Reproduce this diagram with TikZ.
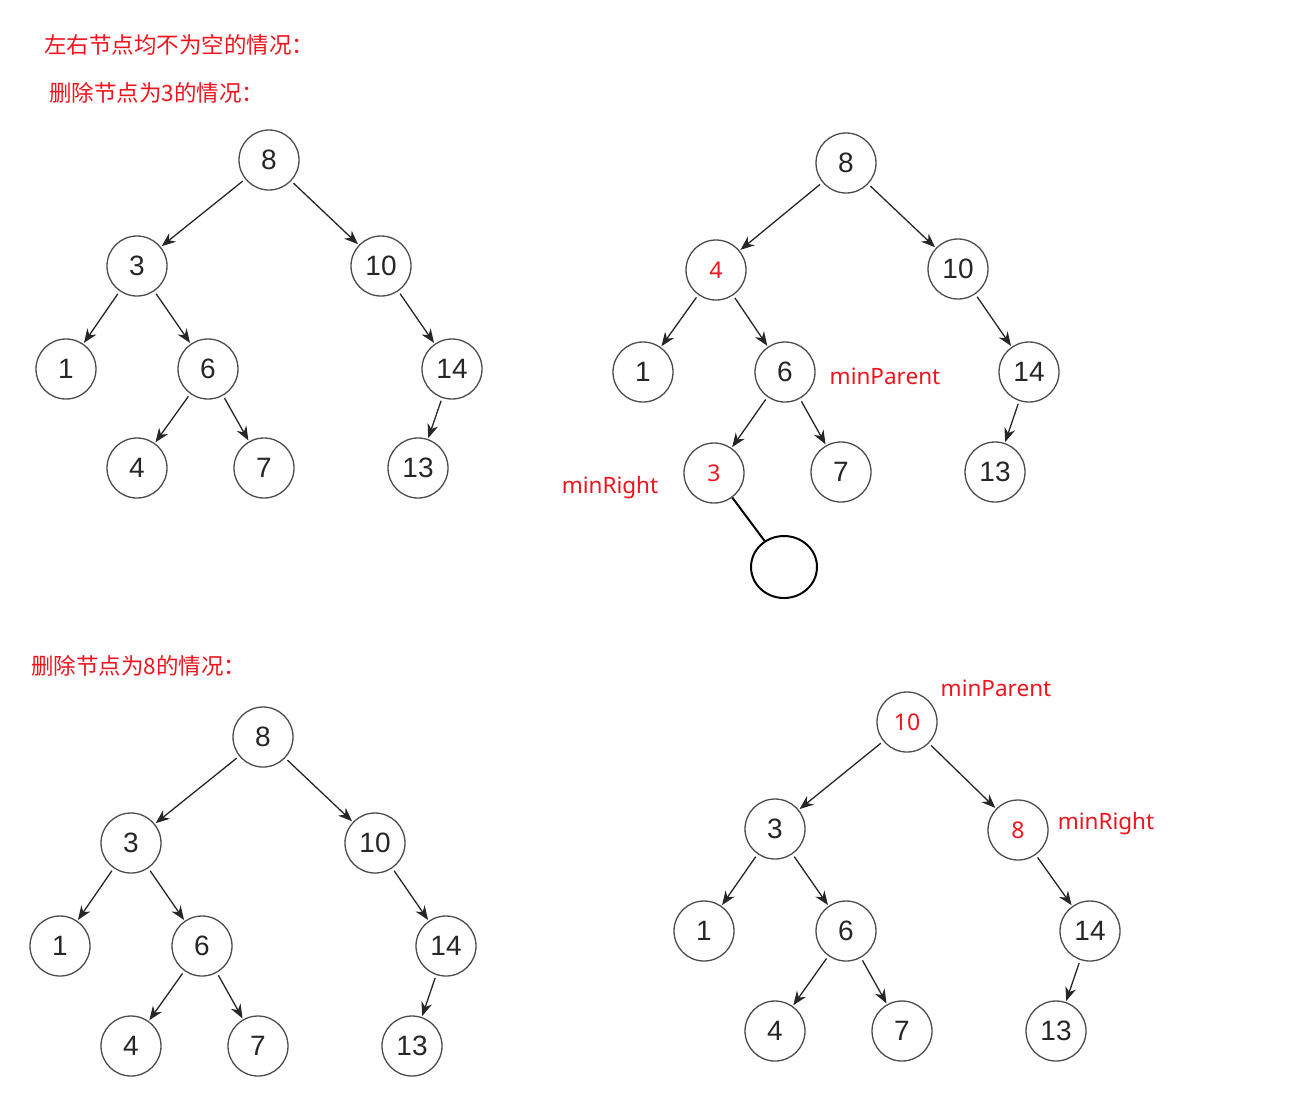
\documentclass[tikz,border=0pt]{standalone}
\usepackage{fontspec}
\setmainfont{Liberation Sans}
\newfontfamily\cjk{Noto Sans CJK SC}
\newfontfamily\labf{Noto Sans}
\usetikzlibrary{arrows.meta,shapes.geometric}
\definecolor{redtxt}{RGB}{240,20,30}
\tikzset{
  tn/.style={circle,draw=black!70,line width=1.3pt,minimum size=60pt,inner sep=0pt,
    font=\fontsize{28}{28}\selectfont,text=black!85},
  rn/.style={tn,font=\labf\fontsize{23}{23}\selectfont,text=redtxt},
  edge/.style={draw=black!85,line width=1.3pt,shorten <=3pt,shorten >=1pt,-{Stealth[length=14pt,width=11pt]}},
  lbl/.style={font=\labf\fontsize{22.5}{22.5}\selectfont,text=redtxt,inner sep=0pt},
  ttl/.style={font=\cjk\fontsize{22.5}{22.5}\selectfont,text=redtxt,inner sep=0pt,anchor=west}
}
\begin{document}
\begin{tikzpicture}[x=1pt,y=-1pt]
\useasboundingbox (0,0) rectangle (1297,1101);
% titles
\node[ttl] (t1) at (44,45) {左右节点均不为空的情况：};
\node[ttl] (t2) at (49,93) {删除节点为3的情况：};
\node[ttl] (t3) at (31,666) {删除节点为8的情况：};
% tree A
\node[tn] (a8) at (269,160) {8};
\node[tn] (a3) at (137,266) {3};
\node[tn] (a10) at (381,266) {10};
\node[tn] (a1) at (66,369) {1};
\node[tn] (a6) at (208,369) {6};
\node[tn] (a14) at (452,369) {14};
\node[tn] (a4) at (137,468) {4};
\node[tn] (a7) at (264,468) {7};
\node[tn] (a13) at (418,468) {13};
\draw[edge] (a8) -- (a3);
\draw[edge] (a8) -- (a10);
\draw[edge] (a3) -- (a1);
\draw[edge] (a3) -- (a6);
\draw[edge] (a6) -- (a4);
\draw[edge] (a6) -- (a7);
\draw[edge] (a10) -- (a14);
\draw[edge] (a14) -- (a13);
% tree B
\node[tn] (b8) at (846,163) {8};
\node[rn] (b4) at (716,270) {4};
\node[tn] (b10) at (958,269) {10};
\node[tn] (b1) at (643,372) {1};
\node[tn] (b6) at (785,372) {6};
\node[tn] (b14) at (1029,372) {14};
\node[rn] (b3) at (714,473) {3};
\node[tn] (b7) at (841,472) {7};
\node[tn] (b13) at (995,472) {13};
\node[ellipse,draw=black,line width=2pt,minimum width=66pt,minimum height=62pt,inner sep=0pt] (be) at (784,567) {};
\draw[edge] (b8) -- (b4);
\draw[edge] (b8) -- (b10);
\draw[edge] (b4) -- (b1);
\draw[edge] (b4) -- (b6);
\draw[edge] (b6) -- (b3);
\draw[edge] (b6) -- (b7);
\draw[edge] (b10) -- (b14);
\draw[edge] (b14) -- (b13);
\draw[black,line width=2pt] (b3) -- (be);
\node[lbl] (bp) at (885,376) {minParent};
\node[lbl] (br) at (610,488) {minRight};
% tree C
\node[tn] (c8) at (263,737) {8};
\node[tn] (c3) at (131,843) {3};
\node[tn] (c10) at (375,843) {10};
\node[tn] (c1) at (60,946) {1};
\node[tn] (c6) at (202,946) {6};
\node[tn] (c14) at (446,946) {14};
\node[tn] (c4) at (131,1046) {4};
\node[tn] (c7) at (258,1046) {7};
\node[tn] (c13) at (412,1046) {13};
\draw[edge] (c8) -- (c3);
\draw[edge] (c8) -- (c10);
\draw[edge] (c3) -- (c1);
\draw[edge] (c3) -- (c6);
\draw[edge] (c6) -- (c4);
\draw[edge] (c6) -- (c7);
\draw[edge] (c10) -- (c14);
\draw[edge] (c14) -- (c13);
% tree D
\node[rn] (d10) at (907,722) {10};
\node[tn] (d3) at (775,829) {3};
\node[rn] (d8) at (1018,830) {8};
\node[tn] (d1) at (704,931) {1};
\node[tn] (d6) at (846,931) {6};
\node[tn] (d14) at (1090,931) {14};
\node[tn] (d4) at (775,1031) {4};
\node[tn] (d7) at (902,1031) {7};
\node[tn] (d13) at (1056,1031) {13};
\draw[edge] (d10) -- (d3);
\draw[edge] (d10) -- (d8);
\draw[edge] (d3) -- (d1);
\draw[edge] (d3) -- (d6);
\draw[edge] (d6) -- (d4);
\draw[edge] (d6) -- (d7);
\draw[edge] (d8) -- (d14);
\draw[edge] (d14) -- (d13);
\node[lbl] (dp) at (996,688) {minParent};
\node[lbl] (dr) at (1106,824) {minRight};
\end{tikzpicture}
\end{document}
